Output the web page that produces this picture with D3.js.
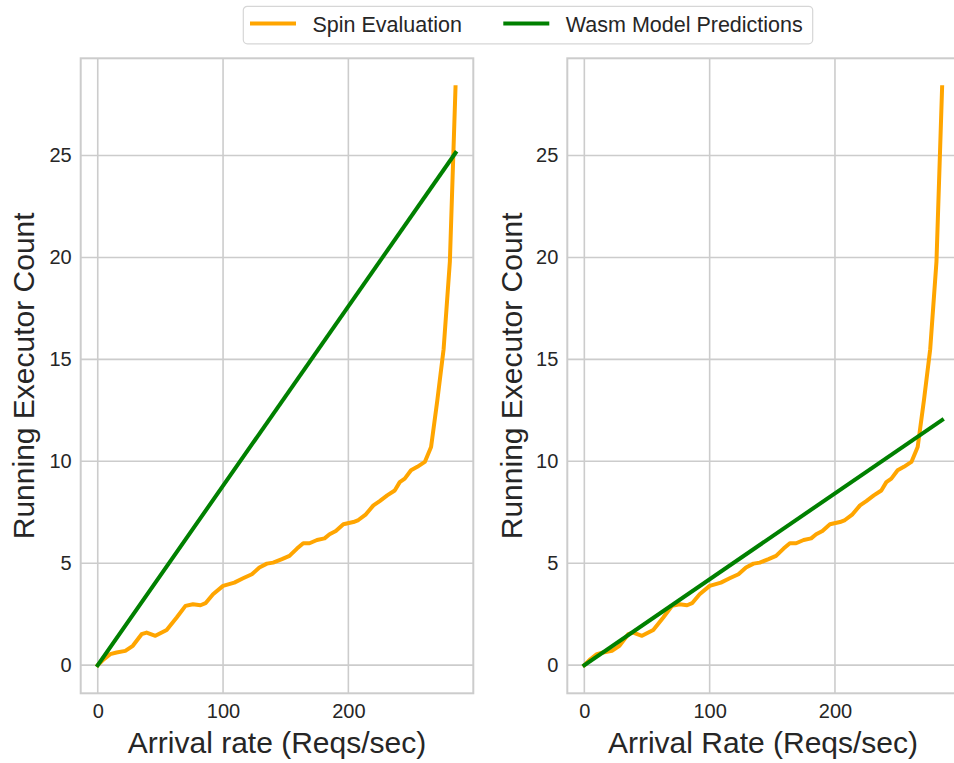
<!DOCTYPE html>
<html>
<head>
<meta charset="utf-8">
<script src="https://cdn.jsdelivr.net/npm/d3@7"></script>
<style>
  body { margin: 0; background: #fff; }
  svg text { font-family: "Liberation Sans", Arial, sans-serif; fill: #262626; }
</style>
</head>
<body>
<div id="chart"></div>
<script>
// measured arrival rate (x) and running executors for the Spin evaluation
const arrivalRate = [0, 5, 10, 15, 22, 28, 35, 39, 46, 55, 63, 70, 76, 82, 86, 92, 100, 109, 116, 123,
  129, 135, 140, 147, 153, 159, 164, 169, 175, 181, 185, 190, 196, 204, 208, 214, 220, 225, 231, 237,
  241, 245, 250, 255, 261, 266, 271, 276, 281, 285.5];
const spinCount = [0, 0.3, 0.54, 0.62, 0.7, 0.95, 1.52, 1.6, 1.44, 1.73, 2.34, 2.91, 2.99, 2.94, 3.04, 3.48, 3.89, 4.05, 4.26, 4.46,
  4.79, 4.98, 5.03, 5.2, 5.36, 5.72, 5.98, 5.98, 6.14, 6.22, 6.42, 6.58, 6.91, 7.02, 7.12, 7.4, 7.84, 8.05, 8.33, 8.57,
  8.98, 9.15, 9.56, 9.73, 9.97, 10.7, 13.0, 15.5, 19.8, 28.35];

// model predictions (straight lines) for each panel
const modelRate = [0, 285.5];
const modelLeft = [0, 25.13];
const modelRight = [0, 12.03];

const xTicks = [0, 100, 200];
const yTicks = [0, 5, 10, 15, 20, 25];
const xLabels = ["Arrival rate (Reqs/sec)", "Arrival Rate (Reqs/sec)"];
const yLabel = "Running Executor Count";
const seriesNames = ["Spin Evaluation", "Wasm Model Predictions"];
const seriesColors = ["orange", "green"];

const width = 954, height = 763;
const gridColor = "#cccccc";

const svg = d3.select("#chart").append("svg")
  .attr("width", width)
  .attr("height", height);

const panels = [
  { left: 80.7, model: modelLeft, xLabel: xLabels[0] },
  { left: 567.3, model: modelRight, xLabel: xLabels[1] }
];
const panelW = 392.6, axTop = 58.3, axBottom = 693.3;

svg.append("clipPath").attr("id", "page")
  .append("rect").attr("width", width).attr("height", height);

panels.forEach((p, k) => {
  const x = d3.scaleLinear().domain([-13.6, 299.7]).range([p.left, p.left + panelW]);
  const y = d3.scaleLinear().domain([-1.38, 29.77]).range([axBottom, axTop]);

  const g = svg.append("g").attr("clip-path", "url(#page)");

  // grid
  g.selectAll(".vgrid").data(xTicks).enter().append("line")
    .attr("x1", d => x(d)).attr("x2", d => x(d))
    .attr("y1", axTop).attr("y2", axBottom)
    .attr("stroke", gridColor).attr("stroke-width", 1.6);
  g.selectAll(".hgrid").data(yTicks).enter().append("line")
    .attr("x1", p.left).attr("x2", p.left + panelW)
    .attr("y1", d => y(d)).attr("y2", d => y(d))
    .attr("stroke", gridColor).attr("stroke-width", 1.6);

  // spines
  g.append("rect")
    .attr("x", p.left).attr("y", axTop)
    .attr("width", panelW).attr("height", axBottom - axTop)
    .attr("fill", "none").attr("stroke", gridColor).attr("stroke-width", 2);

  // axes (labels only, no tick marks)
  const xAxis = g.append("g").attr("transform", `translate(0,${axBottom})`)
    .call(d3.axisBottom(x).tickValues(xTicks).tickSize(0).tickPadding(11));
  const yAxis = g.append("g").attr("transform", `translate(${p.left},0)`)
    .call(d3.axisLeft(y).tickValues(yTicks).tickSize(0).tickPadding(9));
  [xAxis, yAxis].forEach(a => {
    a.select(".domain").remove();
    a.selectAll("text").style("font-size", "20px").attr("fill", "#262626");
  });

  const line = d3.line().x(d => x(d[0])).y(d => y(d[1]));

  g.append("path")
    .datum(d3.zip(arrivalRate, spinCount))
    .attr("d", line)
    .attr("fill", "none").attr("stroke", seriesColors[0])
    .attr("stroke-width", 4).attr("stroke-linejoin", "round").attr("stroke-linecap", "square");

  g.append("path")
    .datum(d3.zip(modelRate, p.model))
    .attr("d", line)
    .attr("fill", "none").attr("stroke", seriesColors[1])
    .attr("stroke-width", 4).attr("stroke-linejoin", "round").attr("stroke-linecap", "square");

  // axis titles
  svg.append("text")
    .attr("x", k === 0 ? 277 : 763).attr("y", 753)
    .attr("text-anchor", "middle")
    .style("font-size", "30px")
    .text(p.xLabel);

  svg.append("text")
    .attr("transform", `translate(${k === 0 ? 33.5 : 521.5},${(axTop + axBottom) / 2}) rotate(-90)`)
    .attr("text-anchor", "middle")
    .style("font-size", "30px")
    .text(yLabel);
});

// legend
const legend = svg.append("g");
legend.append("rect")
  .attr("x", 243.3).attr("y", 6.3)
  .attr("width", 569.4).attr("height", 37.5)
  .attr("rx", 4)
  .attr("fill", "#fff").attr("stroke", "#d6d6d6").attr("stroke-width", 1.2);

const legendX = [250, 503.3];
seriesNames.forEach((name, i) => {
  legend.append("line")
    .attr("x1", legendX[i]).attr("x2", legendX[i] + 46)
    .attr("y1", 23.5).attr("y2", 23.5)
    .attr("stroke", seriesColors[i]).attr("stroke-width", 4);
  legend.append("text")
    .attr("x", legendX[i] + 62.5).attr("y", 31.5)
    .style("font-size", "21.5px")
    .text(name);
});
</script>
</body>
</html>
